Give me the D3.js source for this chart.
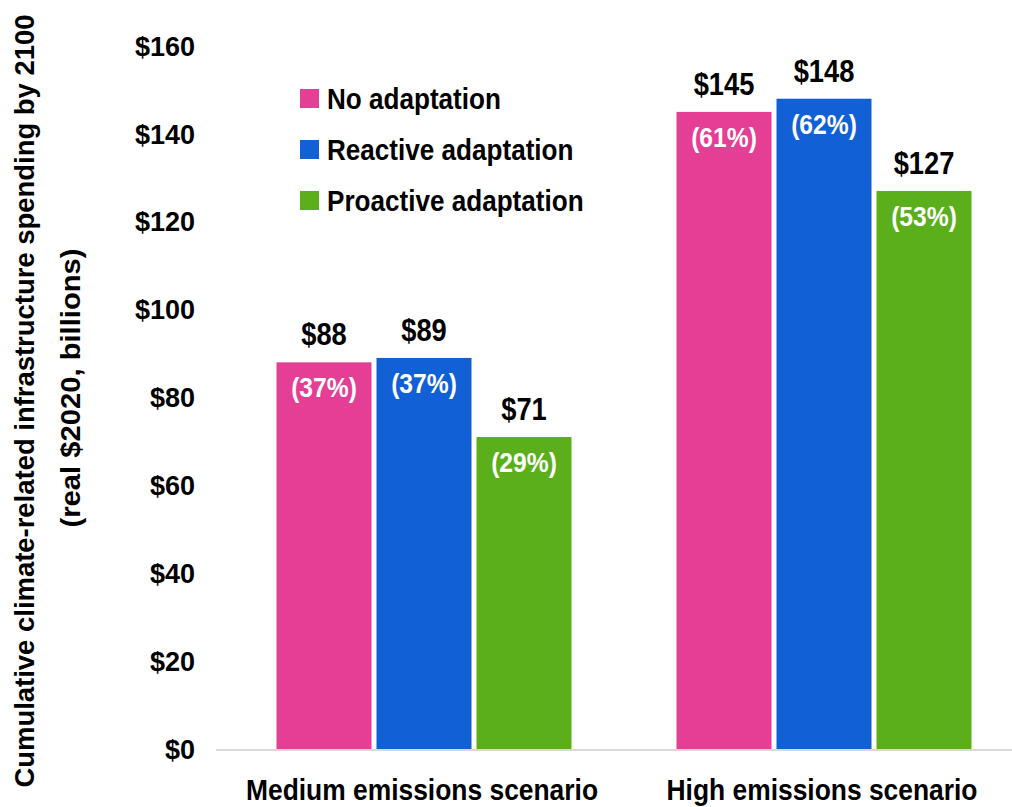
<!DOCTYPE html>
<html lang="en">
<head>
<meta charset="UTF-8">
<title>Cumulative climate-related infrastructure spending</title>
<style>
    body { margin: 0; background: #fff; }
    svg text { font-family: "Liberation Sans", Arial, sans-serif; font-weight: bold; }
    .tick-label { font-size: 27px; fill: #000; }
    .val { font-size: 31px; fill: #000; }
    .pct { font-size: 28px; fill: #fff; }
    .legend text { font-size: 29px; fill: #000; }
    .cat { font-size: 30px; fill: #000; }
    .ytitle { font-size: 28px; fill: #000; }
</style>
</head>
<body>
<svg id="chart" width="1012" height="807"></svg>
<script src="https://d3js.org/d3.v7.min.js"></script>
<script>
// data
const scenarios = ["Medium emissions scenario", "High emissions scenario"];
const series = ["No adaptation", "Reactive adaptation", "Proactive adaptation"];
const colors = ["#e43f94", "#1160d6", "#5baf1b"];
const medium = [88, 89, 71];
const high = [145, 148, 127];
const mediumPct = ["(37%)", "(37%)", "(29%)"];
const highPct = ["(61%)", "(62%)", "(53%)"];
const yTicks = [0, 20, 40, 60, 80, 100, 120, 140, 160];

const values = [medium, high];
const pcts = [mediumPct, highPct];

const svg = d3.select("#chart");

const x0 = d3.scaleBand()
    .domain(scenarios)
    .range([224, 1024])
    .paddingInner(0.2625)
    .paddingOuter(0.13125);

const x1 = d3.scaleBand()
    .domain(series)
    .range([0, x0.bandwidth()])
    .paddingInner(0.05)
    .paddingOuter(0);

const y = d3.scaleLinear().domain([0, 160]).range([749, 46]);
const color = d3.scaleOrdinal().domain(series).range(colors);

// baseline
svg.append("line")
    .attr("x1", 216).attr("x2", 1012)
    .attr("y1", y(0) + 1).attr("y2", y(0) + 1)
    .attr("stroke", "#d9d9d9").attr("stroke-width", 2);

// y tick labels
svg.append("g").selectAll("text")
    .data(yTicks)
    .enter().append("text")
    .attr("class", "tick-label")
    .attr("x", 195)
    .attr("y", d => y(d))
    .attr("dy", "0.36em")
    .attr("text-anchor", "end")
    .text(d => "$" + d);

// bars
const rows = [];
scenarios.forEach((s, i) => {
    series.forEach((k, j) => {
        rows.push({scenario: s, key: k, value: values[i][j], pct: pcts[i][j]});
    });
});

const bar = svg.append("g").selectAll("g")
    .data(rows)
    .enter().append("g");

bar.append("rect")
    .attr("x", d => x0(d.scenario) + x1(d.key))
    .attr("y", d => y(d.value))
    .attr("width", x1.bandwidth())
    .attr("height", d => y(0) - y(d.value))
    .attr("fill", d => color(d.key));

bar.append("text")
    .attr("class", "val")
    .attr("text-anchor", "middle")
    .attr("transform", d => {
        const cx = x0(d.scenario) + x1(d.key) + x1.bandwidth() / 2;
        return `translate(${cx},${y(d.value) - 17}) scale(0.88,1)`;
    })
    .text(d => "$" + d.value);

bar.append("text")
    .attr("class", "pct")
    .attr("text-anchor", "middle")
    .attr("transform", d => {
        const cx = x0(d.scenario) + x1(d.key) + x1.bandwidth() / 2;
        return `translate(${cx},${y(d.value) + 35}) scale(0.88,1)`;
    })
    .text(d => d.pct);

// category labels
svg.append("g").selectAll("text")
    .data(scenarios)
    .enter().append("text")
    .attr("class", "cat")
    .attr("text-anchor", "middle")
    .attr("transform", d => `translate(${x0(d) + x0.bandwidth() / 2 - 2},800) scale(0.88,1)`)
    .text(d => d);

// legend
const legend = svg.append("g").attr("class", "legend")
    .selectAll("g")
    .data(series)
    .enter().append("g")
    .attr("transform", (d, i) => `translate(300,${98 + i * 51})`);

legend.append("rect")
    .attr("x", 0).attr("y", -9)
    .attr("width", 19).attr("height", 19)
    .attr("fill", d => color(d));

legend.append("text")
    .attr("transform", "translate(27,10.5) scale(0.9,1)")
    .text(d => d);

// y axis title
const yt = svg.append("g").attr("class", "ytitle");
yt.append("text")
    .attr("transform", "translate(34,401) rotate(-90)")
    .attr("text-anchor", "middle")
    .attr("textLength", 773)
    .attr("lengthAdjust", "spacingAndGlyphs")
    .text("Cumulative climate-related infrastructure spending by 2100");
yt.append("text")
    .attr("transform", "translate(80,388) rotate(-90)")
    .attr("text-anchor", "middle")
    .attr("textLength", 279)
    .attr("lengthAdjust", "spacingAndGlyphs")
    .text("(real $2020, billions)");
</script>
</body>
</html>
